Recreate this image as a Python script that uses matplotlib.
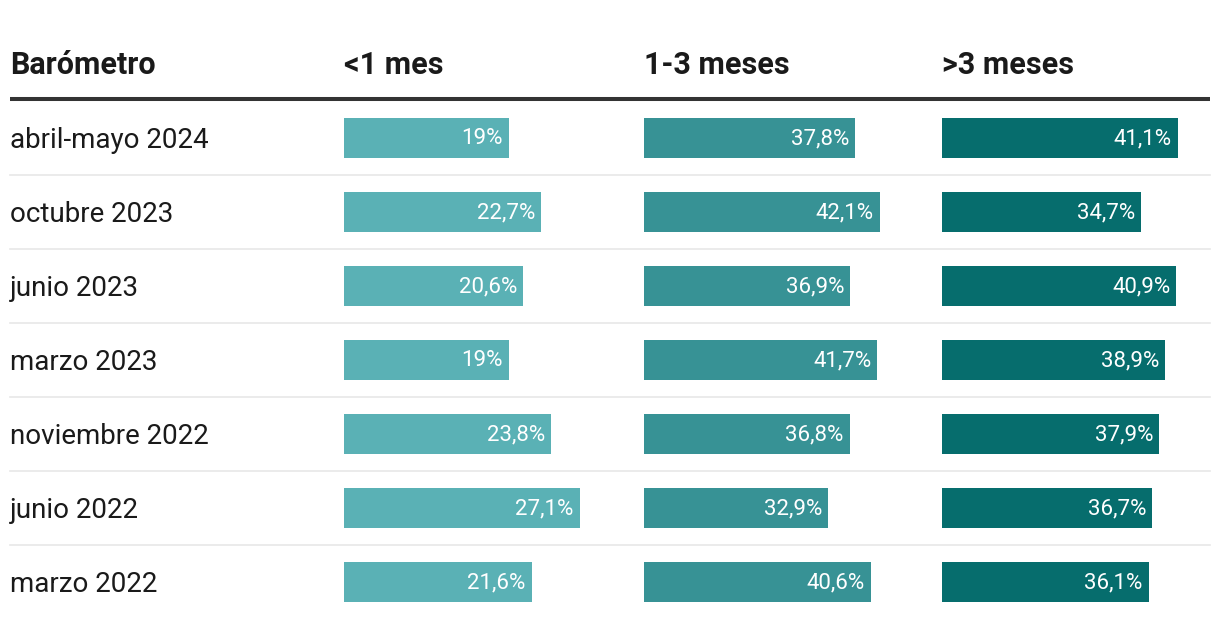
import matplotlib
matplotlib.use("Agg")
import matplotlib.pyplot as plt

plt.rcParams['font.family'] = ['Roboto', 'DejaVu Sans']

header_label = "Barómetro"
columns = ["<1 mes", "1-3 meses", ">3 meses"]
rows = ["abril-mayo 2024", "octubre 2023", "junio 2023", "marzo 2023",
        "noviembre 2022", "junio 2022", "marzo 2022"]
menos_1_mes = [19.0, 22.7, 20.6, 19.0, 23.8, 27.1, 21.6]
de_1_a_3_meses = [37.8, 42.1, 36.9, 41.7, 36.8, 32.9, 40.6]
mas_3_meses = [41.1, 34.7, 40.9, 38.9, 37.9, 36.7, 36.1]

series = [menos_1_mes, de_1_a_3_meses, mas_3_meses]
colors = ["#5ab1b5", "#379295", "#066d6d"]

W, H = 1220, 628
fig = plt.figure(figsize=(W / 100, H / 100), dpi=100)
ax = fig.add_axes([0, 0, 1, 1])
ax.set_xlim(0, W)
ax.set_ylim(H, 0)
ax.axis("off")

col_x = [344, 644, 942]
max_w = 235.5
row_y0 = 138
pitch = 74
bar_h = 40
header_y = 65


def fmt(v):
    s = f"{v:.1f}"
    if s.endswith(".0"):
        s = s[:-2]
    return s.replace(".", ",") + "%"


# header
ax.text(10, header_y, header_label, fontsize=22, fontweight="bold",
        color="#1a1a1a", ha="left", va="center")
for cx, name in zip(col_x, columns):
    ax.text(cx, header_y, name, fontsize=22, fontweight="bold",
            color="#1a1a1a", ha="left", va="center")
ax.plot([10, 1210], [99, 99], color="#333333", lw=2.9, solid_capstyle="butt")

ys = [row_y0 + i * pitch for i in range(len(rows))]

# separators
for i in range(len(rows) - 1):
    y = ys[i] + pitch / 2
    ax.plot([10, 1210], [y, y], color="#e8e8e8", lw=1.2)

# row labels
for y, r in zip(ys, rows):
    ax.text(10, y + 2, r, fontsize=20, color="#1a1a1a", ha="left", va="center")

# bars
for cx, vals, c in zip(col_x, series, colors):
    scale = max_w / max(vals)
    widths = [v * scale for v in vals]
    ax.barh(ys, widths, left=cx, height=bar_h, color=c, align="center")
    for y, v, w in zip(ys, vals, widths):
        ax.text(cx + w - 6, y + 1, fmt(v), fontsize=16, color="white",
                ha="right", va="center")

fig.savefig("out.png", dpi=100)
